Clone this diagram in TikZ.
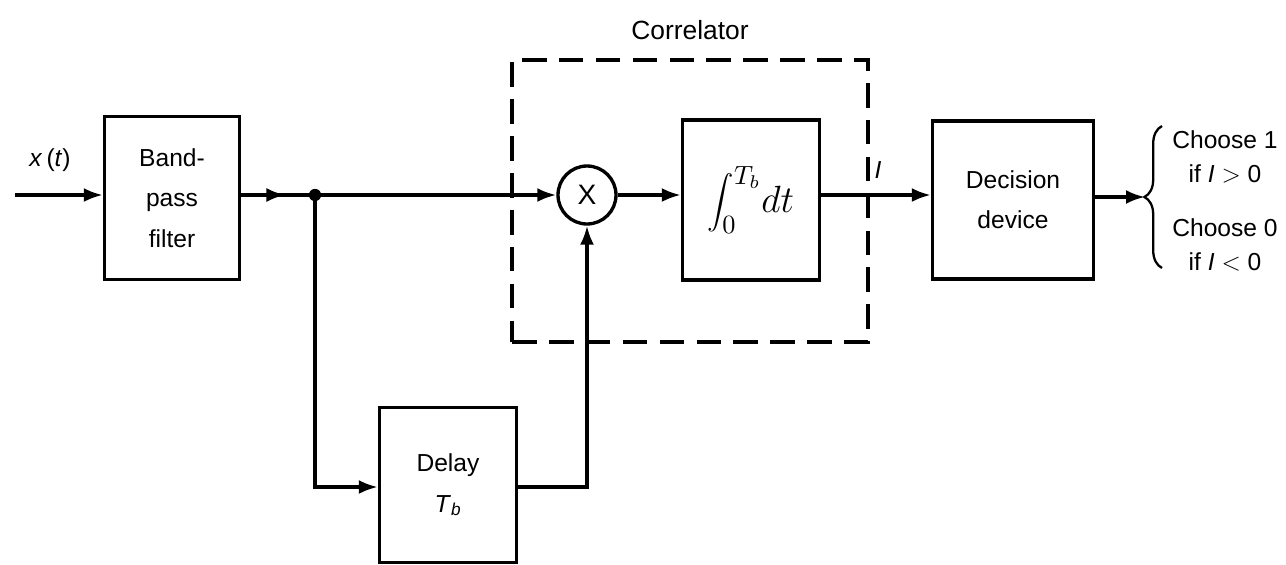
\documentclass[tikz,border=0pt]{standalone}
\usepackage{fontspec}
\setmainfont{Liberation Sans}
\usetikzlibrary{arrows.meta,positioning,decorations.pathreplacing,decorations.markings}

\begin{document}
\begin{tikzpicture}[x=0.02cm,y=-0.02cm,>=Latex,line width=1.9pt,
  blk/.style={draw,minimum width=2.74cm,minimum height=3.2cm,align=center,font=\fontsize{14}{23}\selectfont,inner sep=2pt},
  lbl/.style={font=\fontsize{14}{19}\selectfont,inner sep=1pt},
  arr/.style={-{Latex[length=3.8mm,width=2.8mm]}},
  midarr/.style={postaction={decorate},decoration={markings,mark=at position #1 with {\arrow{Latex[length=3.8mm,width=2.8mm]}}}}]
\useasboundingbox (0,0) rectangle (1286,565);
\node[blk,minimum width=2.7cm,minimum height=3.26cm] (bpf) at (172,198) {Band-\\pass\\filter};
\node[draw,circle,minimum size=1.16cm,inner sep=0pt,font=\fontsize{16}{16}\selectfont] (mul) at (587,195) {X};
\node[blk] (intg) at (751,200) {\scalebox{1.5}{$\displaystyle\int_0^{T_b}\!dt$}};
\node[blk,minimum width=3.22cm,minimum height=3.16cm] (dec) at (1013,200) {Decision\\device};
\node[blk,minimum height=3.1cm] (dly) at (448,485) {Delay\\\textit{T}\textsubscript{\textit{b}}};
\node[draw,dashed,dash pattern=on 14pt off 7pt,minimum width=7.12cm,minimum height=5.64cm] (corr) at (690,201) {};
\node[lbl,font=\fontsize{15}{19}\selectfont] (corrlbl) at (690,30) {Correlator};
\coordinate (xin) at (15,195);
\coordinate (jn) at (315,195);
\coordinate (dlyin) at (315,487);
\coordinate (dlyout) at (587,487);
\coordinate (brc) at (1145,197);
\node[lbl] (xlbl) at (50,160) {\textit{x}\,(\textit{t})};
\node[lbl] (ilbl) at (878,170) {\textit{I}};
\node[lbl,align=center] (ch1) at (1225,157) {Choose 1\\if \textit{I} $>$ 0};
\node[lbl,align=center] (ch0) at (1225,245) {Choose 0\\if \textit{I} $<$ 0};
% connections
\draw[arr] (xin) -- (xin -| bpf.west);
\draw[midarr=0.6] (bpf.east |- jn) -- (jn);
\fill (jn) circle (3.5pt);
\draw[arr] (jn) -- (mul.west);
\draw[arr] (mul.east) -- (mul.east -| intg.west);
\draw[arr] (intg.east |- mul) -- (mul -| dec.west);
\draw[arr] (jn) -- (dlyin) -- (dlyin -| dly.west);
\draw[arr] (dlyout -| dly.east) -- (dlyout) -- (mul.south);
\draw[arr] (dec.east |- brc) -- (brc);
\draw[line width=1.3pt,decorate,decoration={brace,amplitude=10pt}] (1162,268) -- (1162,126);
\end{tikzpicture}
\end{document}
